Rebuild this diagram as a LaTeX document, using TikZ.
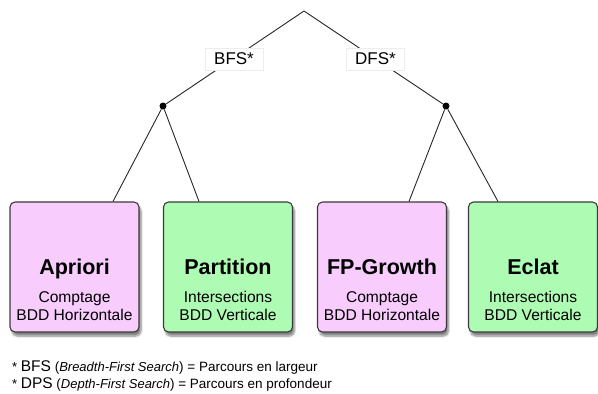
\documentclass[tikz,border=0pt]{standalone}
\usepackage{fontspec}
\setmainfont{Liberation Sans}
\usetikzlibrary{shadows.blur,calc}
\definecolor{pinkfill}{HTML}{F8CCFC}
\definecolor{greenfill}{HTML}{AEFCB4}
\definecolor{boxline}{HTML}{3A3A3A}
\begin{document}
\begin{tikzpicture}[x=1pt,y=-1pt,
  algo/.style={draw=boxline, line width=1.1pt, rounded corners=5pt,
    minimum width=129pt, minimum height=130pt, inner sep=0pt,
    blur shadow={shadow xshift=2pt, shadow yshift=-4pt, shadow blur steps=6, shadow opacity=50}},
  pinkbox/.style={algo, fill=pinkfill},
  greenbox/.style={algo, fill=greenfill},
  ttl/.style={font=\fontsize{21.5}{25}\selectfont\bfseries, anchor=base, inner sep=0pt},
  sub/.style={font=\fontsize{15.6}{18}\selectfont, anchor=base, inner sep=0pt},
  lbl/.style={fill=white, draw=black!7, line width=0.5pt, font=\fontsize{17}{20}\selectfont,
    inner sep=0pt, minimum width=58pt, minimum height=22pt},
  jdot/.style={circle, fill=black, inner sep=0pt, minimum size=7pt},
  link/.style={draw=black!85, line width=0.9pt},
  fn/.style={anchor=base west, inner sep=0pt}
]
\useasboundingbox (0,0) rectangle (598,394);

% boxes
\node[pinkbox]  (apriori)   at (74.5,267) {};
\node[greenbox] (partition) at (228,267) {};
\node[pinkbox]  (fpgrowth)  at (382,267) {};
\node[greenbox] (eclat)     at (533,267) {};

\node[ttl] (t1) at (74.5,274) {Apriori};
\node[sub] (s1a) at (74.5,302) {Comptage};
\node[sub] (s1b) at (74.5,320) {BDD Horizontale};

\node[ttl] (t2) at (228,274) {Partition};
\node[sub] (s2a) at (228,302) {Intersections};
\node[sub] (s2b) at (228,320) {BDD Verticale};

\node[ttl] (t3) at (382,274) {FP-Growth};
\node[sub] (s3a) at (382,302) {Comptage};
\node[sub] (s3b) at (382,320) {BDD Horizontale};

\node[ttl] (t4) at (533,274) {Eclat};
\node[sub] (s4a) at (533,302) {Intersections};
\node[sub] (s4b) at (533,320) {BDD Verticale};

% tree
\coordinate (root) at (304,11);
\node[jdot] (dl) at (163,106) {};
\node[jdot] (dr) at (446,106) {};

\draw[link] (root) -- (dl);
\draw[link] (root) -- (dr);
\draw[link] (dl) -- ($(apriori.north)+(38.5,0)$);
\draw[link] (dl) -- ($(partition.north)+(-29,0)$);
\draw[link] (dr) -- ($(fpgrowth.north)+(27,0)$);
\draw[link] (dr) -- ($(eclat.north)+(-35,0)$);

\node[lbl] (bfs) at (234,59) {BFS*};
\node[lbl] (dfs) at (375.5,59) {DFS*};

% footnotes
\node[fn] (fn1) at (12,371) {\fontsize{13}{15}\selectfont *\ \fontsize{15.5}{18}\selectfont BFS\fontsize{13.5}{16}\selectfont\ (\textit{\fontsize{13}{15}\selectfont Breadth-First Search}) = Parcours en largeur};
\node[fn] (fn2) at (12,388) {\fontsize{13}{15}\selectfont *\ \fontsize{15.5}{18}\selectfont DPS\fontsize{13.5}{16}\selectfont\ (\textit{\fontsize{13}{15}\selectfont Depth-First Search}) = Parcours en profondeur};
\end{tikzpicture}
\end{document}
